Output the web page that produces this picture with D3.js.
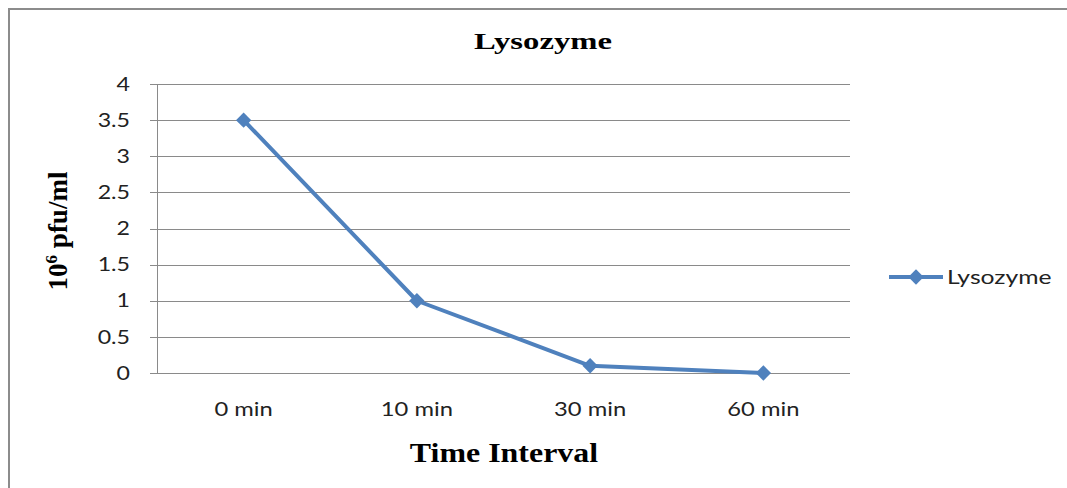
<!DOCTYPE html>
<html>
<head>
<meta charset="utf-8">
<script src="https://cdn.jsdelivr.net/npm/d3@7"></script>
<style>
  body { margin: 0; background: #fff; }
  svg { display: block; }
</style>
</head>
<body>
<script>
// data
const categories = ["0 min", "10 min", "30 min", "60 min"];
const values = [3.5, 1, 0.1, 0];
const yTicks = [0, 0.5, 1, 1.5, 2, 2.5, 3, 3.5, 4];
const seriesName = "Lysozyme";

const W = 1067, H = 488;
const margin = {top: 84, right: 217, bottom: 115, left: 157};
const width = W - margin.left - margin.right,
      height = H - margin.top - margin.bottom;
const blue = "#4f81bd";
const tickFont = "Lato, 'Open Sans', sans-serif";
const serif = "'Liberation Serif', 'DejaVu Serif', serif";

// the reference text is a bit wider than the installed fonts, widen it
function stretch(sel, k) {
  sel.each(function() {
    const len = this.getComputedTextLength();
    d3.select(this)
      .attr("textLength", len * k)
      .attr("lengthAdjust", "spacingAndGlyphs");
  });
}

const svg = d3.select("body").append("svg")
    .attr("width", W)
    .attr("height", H);

// chart frame (only left and top edges show in the crop)
svg.append("path")
    .attr("d", "M9," + H + " V9 H" + W)
    .attr("fill", "none")
    .attr("stroke", "#8c8c8c")
    .attr("stroke-width", 2);

const g = svg.append("g")
    .attr("transform", "translate(" + margin.left + "," + margin.top + ")");

const x = d3.scaleBand()
    .domain(categories)
    .range([0, width]);

const y = d3.scaleLinear()
    .domain([0, 4])
    .range([height, 0]);

// gridlines
g.append("g")
  .selectAll("line")
  .data(yTicks)
  .join("line")
    .attr("x1", -7)
    .attr("x2", width)
    .attr("y1", d => Math.round(y(d)) + 0.5)
    .attr("y2", d => Math.round(y(d)) + 0.5)
    .attr("stroke", "#8a8a8a")
    .attr("stroke-width", 1);

// y axis line
g.append("line")
    .attr("x1", 0.5).attr("x2", 0.5)
    .attr("y1", 0).attr("y2", height)
    .attr("stroke", "#8a8a8a");

// y tick labels
g.append("g")
  .selectAll("text")
  .data(yTicks)
  .join("text")
    .attr("x", -27)
    .attr("y", d => y(d))
    .attr("dy", "0.35em")
    .attr("text-anchor", "end")
    .style("font-family", tickFont)
    .style("font-size", "19px")
    .style("fill", "#222")
    .text(d => d)
    .call(stretch, 1.22);

// x tick labels
g.append("g")
  .selectAll("text")
  .data(categories)
  .join("text")
    .attr("x", d => x(d) + x.bandwidth() / 2)
    .attr("y", height + 43)
    .attr("text-anchor", "middle")
    .style("font-family", tickFont)
    .style("font-size", "19px")
    .style("fill", "#222")
    .text(d => d)
    .call(stretch, 1.25);

const pts = categories.map((c, i) => ({c: c, v: values[i]}));

const line = d3.line()
    .x(d => x(d.c) + x.bandwidth() / 2)
    .y(d => y(d.v));

g.append("path")
    .datum(pts)
    .attr("fill", "none")
    .attr("stroke", blue)
    .attr("stroke-width", 4)
    .attr("stroke-linejoin", "round")
    .attr("d", line);

const diamond = d3.symbol().type(d3.symbolDiamond2).size(150);

g.selectAll(".pt")
  .data(pts)
  .join("path")
    .attr("class", "pt")
    .attr("transform", d => "translate(" + (x(d.c) + x.bandwidth() / 2) + "," + y(d.v) + ")")
    .attr("d", diamond)
    .attr("fill", blue);

// title
svg.append("text")
    .attr("x", 543)
    .attr("y", 49)
    .attr("text-anchor", "middle")
    .style("font-family", serif)
    .style("font-weight", "bold")
    .style("font-size", "23px")
    .text("Lysozyme")
    .call(stretch, 1.42);

// x axis title
svg.append("text")
    .attr("x", 504)
    .attr("y", 462)
    .attr("text-anchor", "middle")
    .style("font-family", serif)
    .style("font-weight", "bold")
    .style("font-size", "28px")
    .text("Time Interval")
    .call(stretch, 1.14);

// y axis title
const yt = svg.append("text")
    .attr("transform", "translate(67,231) rotate(-90)")
    .attr("text-anchor", "middle")
    .style("font-family", serif)
    .style("font-weight", "bold")
    .style("font-size", "27px");
yt.append("tspan").text("10");
yt.append("tspan").attr("dy", -10).style("font-size", "17px").text("6");
yt.append("tspan").attr("dy", 10).text(" pfu/ml");

// legend
const lg = svg.append("g").attr("transform", "translate(889,277)");
lg.append("line")
    .attr("x1", 0).attr("x2", 54)
    .attr("stroke", blue)
    .attr("stroke-width", 4);
lg.append("path")
    .attr("transform", "translate(27,0)")
    .attr("d", diamond)
    .attr("fill", blue);
lg.append("text")
    .attr("x", 58)
    .attr("dy", "0.35em")
    .style("font-family", tickFont)
    .style("font-size", "19px")
    .style("fill", "#222")
    .text(seriesName)
    .call(stretch, 1.3);
</script>
</body>
</html>
